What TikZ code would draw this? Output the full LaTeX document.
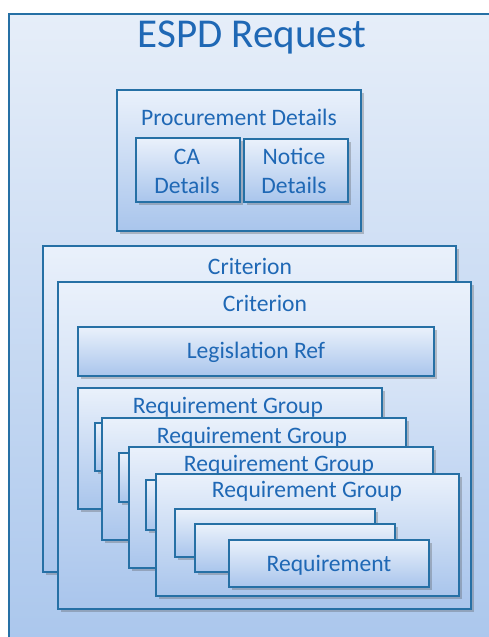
\documentclass[tikz,border=0pt]{standalone}
\usepackage{fontspec}
\setmainfont{Carlito}
\usetikzlibrary{shadows}
\definecolor{bordc}{HTML}{2670A5}
\definecolor{txtc}{HTML}{1F68B5}
\definecolor{boxtop}{HTML}{EAF1FB}
\definecolor{boxbot}{HTML}{A9C5EC}
\definecolor{outtop}{HTML}{E6EEF9}
\definecolor{outbot}{HTML}{A8C5EC}
\tikzset{
  box/.style={draw=bordc, line width=1.9pt, top color=boxtop, bottom color=boxbot,
    drop shadow={shadow xshift=2.5pt, shadow yshift=-2.5pt, opacity=0.3, fill=black!70},
    inner sep=0pt, outer sep=0pt, anchor=north west},
  outerbox/.style={draw=bordc, line width=1.9pt, top color=outtop, bottom color=outbot,
    inner sep=0pt, outer sep=0pt, anchor=north west},
  lbl/.style={text=txtc, font=\fontsize{23.6}{29}\selectfont, anchor=base, inner sep=0pt},
  title/.style={text=txtc, font=\fontsize{41}{46}\selectfont, anchor=base, inner sep=0pt},
}
\begin{document}
\begin{tikzpicture}[x=1pt,y=-1pt]
\useasboundingbox (0,0) rectangle (489,637);
\clip (0,0) rectangle (489,637);
\fill[white] (0,0) rectangle (489,637);
% outer ESPD request
\node[outerbox, minimum width=520pt, minimum height=660pt] (espd) at (9,14) {};
\node[title] (espdt) at (252,47) {ESPD Request};
% procurement details
\node[box, minimum width=244pt, minimum height=141pt] (proc) at (117,90) {};
\node[lbl] (proct) at (239,125) {Procurement Details};
\node[box, minimum width=104pt, minimum height=64pt] (ca) at (136,138) {};
\node[lbl, align=center, anchor=center] (cat) at (187,171) {CA\\Details};
\node[box, minimum width=104pt, minimum height=63pt] (notice) at (244,139) {};
\node[lbl, align=center, anchor=center] (noticet) at (294,171) {Notice\\Details};
% criteria
\node[box, minimum width=413pt, minimum height=326pt] (crit1) at (43,246) {};
\node[lbl] (crit1t) at (250,274) {Criterion};
\node[box, minimum width=413pt, minimum height=327pt] (crit2) at (58,282) {};
\node[lbl] (crit2t) at (265,311) {Criterion};
\node[box, minimum width=356pt, minimum height=49pt] (leg) at (78,327) {};
\node[lbl] (legt) at (256,358) {Legislation Ref};
% requirement groups
\node[box, minimum width=304pt, minimum height=121pt] (rg1) at (78,388) {};
\node[lbl] (rg1t) at (228,413) {Requirement Group};
\node[box, minimum width=200pt, minimum height=48pt] (tab1) at (95,423) {};
\node[box, minimum width=304pt, minimum height=122pt] (rg2) at (102,418) {};
\node[lbl] (rg2t) at (252,443) {Requirement Group};
\node[box, minimum width=200pt, minimum height=49pt] (tab2) at (119,453) {};
\node[box, minimum width=304pt, minimum height=121pt] (rg3) at (129,447) {};
\node[lbl] (rg3t) at (279,471) {Requirement Group};
\node[box, minimum width=200pt, minimum height=50pt] (tab3) at (146,480) {};
\node[box, minimum width=303pt, minimum height=122pt] (rg4) at (156,474) {};
\node[lbl] (rg4t) at (307,497) {Requirement Group};
% requirements
\node[box, minimum width=200pt, minimum height=48pt] (req1) at (175,509) {};
\node[box, minimum width=200pt, minimum height=48pt] (req2) at (195,524) {};
\node[box, minimum width=200pt, minimum height=47pt] (req3) at (229,540) {};
\node[lbl] (req3t) at (329,571) {Requirement};
\end{tikzpicture}
\end{document}
